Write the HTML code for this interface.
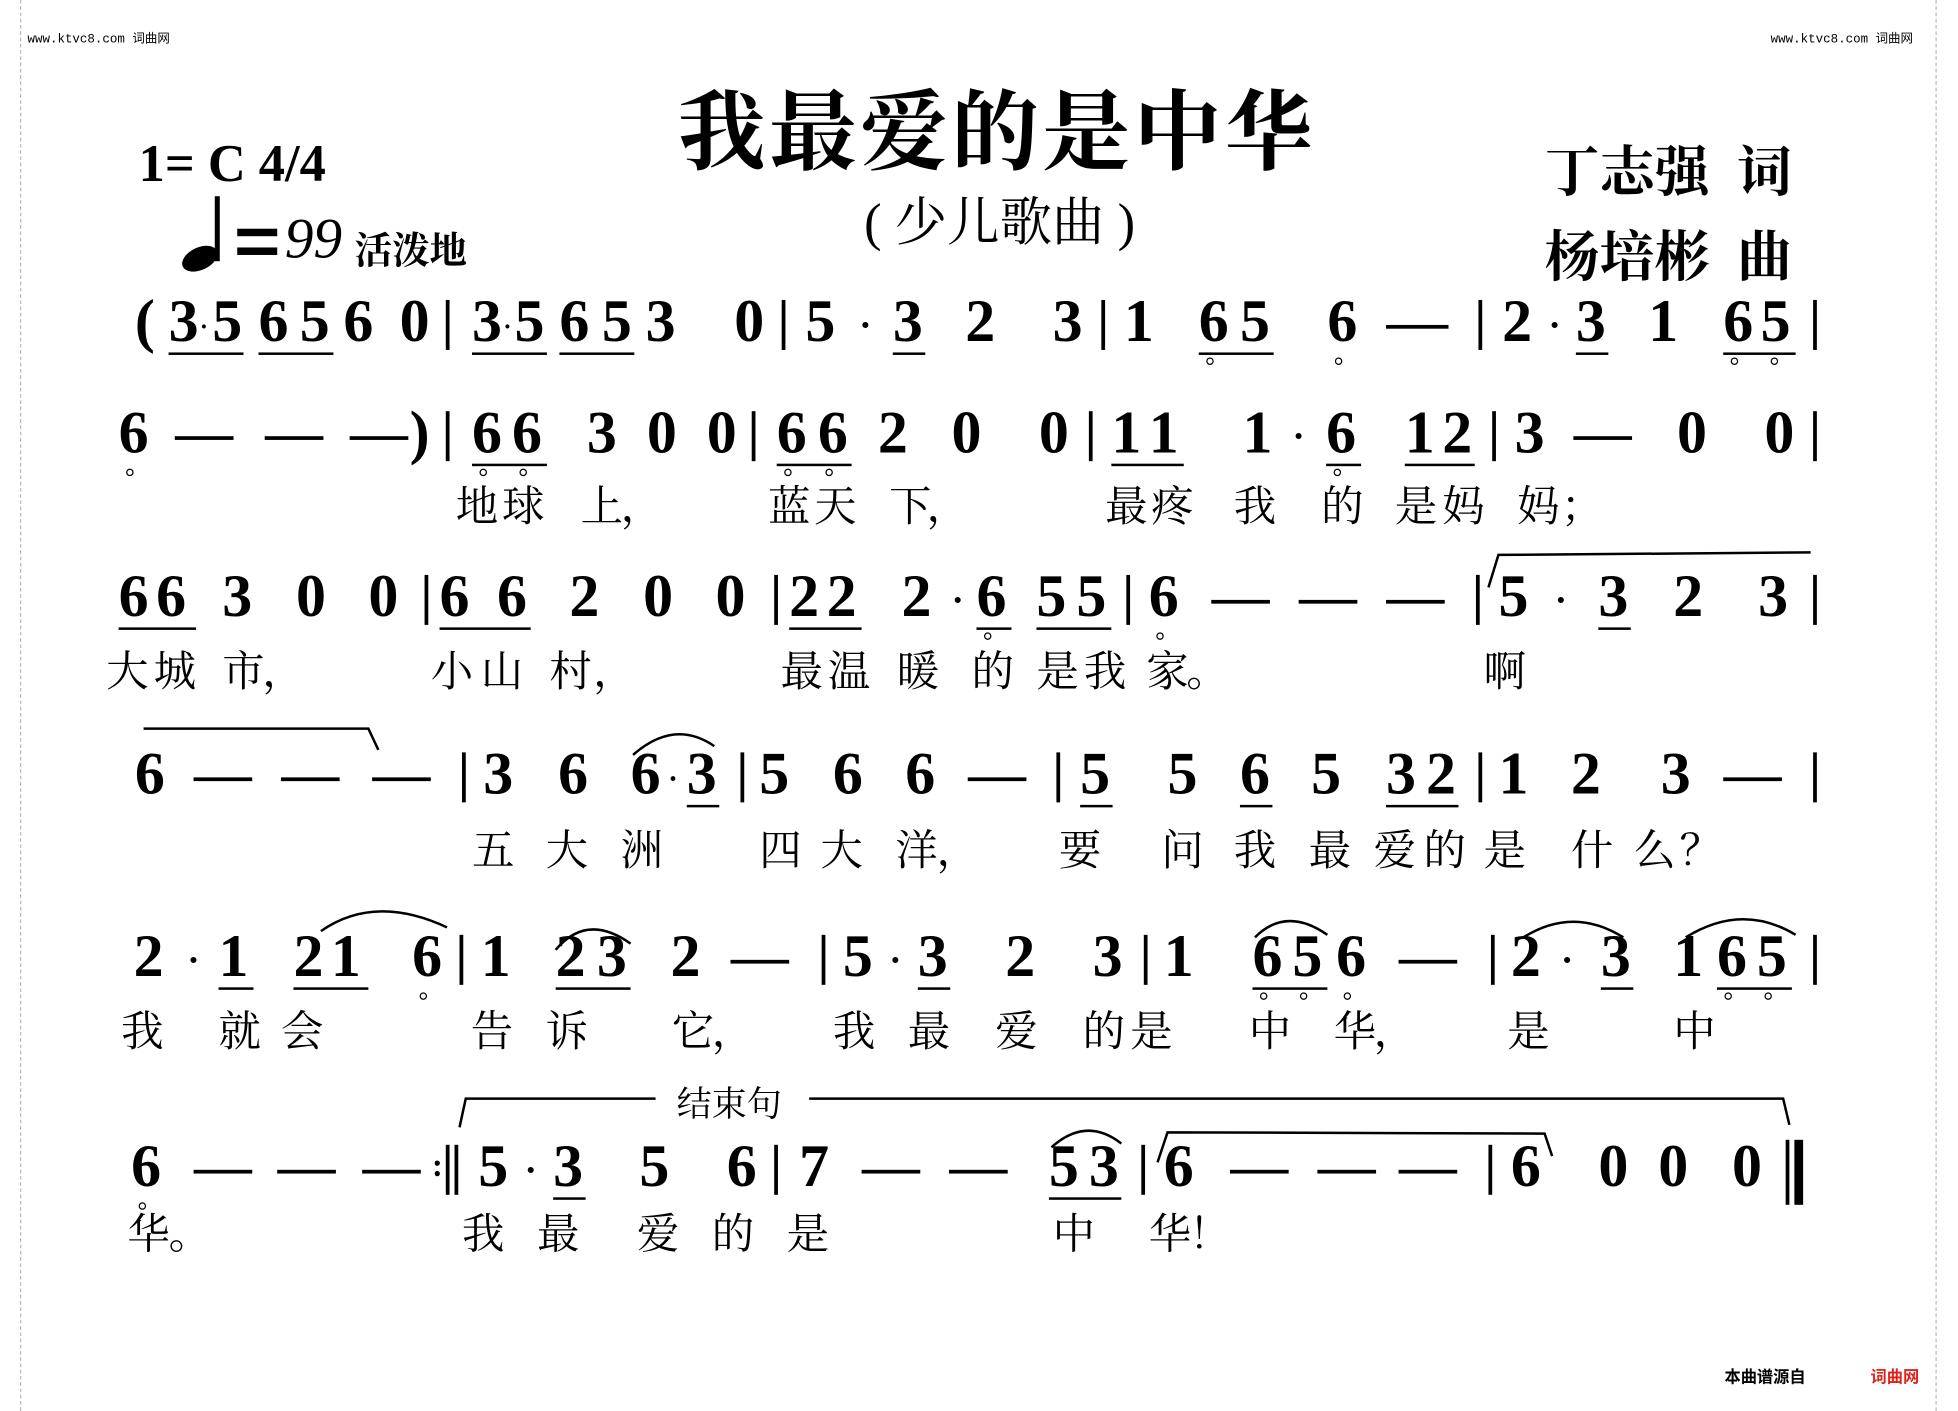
<!DOCTYPE html>
<html><head><meta charset="utf-8"><style>
html,body{margin:0;padding:0;background:#fff;width:1958px;height:1411px;overflow:hidden}
#w{position:absolute;left:0;top:0;width:1568px;height:1129px;transform-origin:0 0;transform:scale(1.2487,1.2498)}
.r{position:absolute;left:0;width:1568px;height:60px}
.r i{position:absolute;top:0;font-style:normal;font:bold 48px/1 "Liberation Serif",serif;color:#000}
.r b{position:absolute;height:3px;background:#000}
.r s{position:absolute;width:3px;height:40px;top:6px;background:#000}
.r u{position:absolute;width:6px;height:6px;border:1.5px solid #000;border-radius:50%;top:52px;box-sizing:border-box}
.y{position:absolute;left:0;width:1568px;height:40px}
.y span{position:absolute;top:0;font:34px/1 "Liberation Serif","Noto Serif CJK SC",serif;color:#000}
.c{position:absolute;font-family:"Liberation Serif","Noto Serif CJK SC",serif;color:#000;white-space:pre}
.wm{position:absolute;font:10px "Liberation Mono","Noto Sans CJK SC",monospace;color:#000}
</style></head><body><div id="w">
<div style="position:absolute;left:16px;top:0;height:1129px;border-left:1px dashed #bbb"></div>
<div style="position:absolute;left:1550px;top:0;height:1129px;border-left:1px dashed #bbb"></div>
<div class="wm" style="left:22px;top:22px">www.ktvc8.com 词曲网</div>
<div class="wm" style="left:1418px;top:22px">www.ktvc8.com 词曲网</div>
<div class="c" style="left:1381px;top:1091px;font:bold 13px 'Noto Sans CJK SC',sans-serif">本曲谱源自</div>
<div class="c" style="left:1498px;top:1091px;font:bold 13px 'Noto Sans CJK SC',sans-serif;color:#e0201a">词曲网</div>

<div class="c" style="left:543px;top:50px;font-size:70px;font-weight:bold;letter-spacing:3px">我最爱的是中华</div>
<div class="c" style="left:692px;top:145px;font-size:42px">( 少儿歌曲 )</div>
<div class="c" style="left:1237px;top:102px;font-size:44px;font-weight:bold">丁志强  词</div>
<div class="c" style="left:1237px;top:170px;font-size:44px;font-weight:bold">杨培彬  曲</div>
<div class="c" style="left:111px;top:108px;font-size:42px;font-weight:bold">1= C 4/4</div>
<div style="position:absolute;left:172px;top:157px;width:4px;height:52px;background:#000"></div>
<div style="position:absolute;left:145px;top:198px;width:30px;height:18px;background:#000;border-radius:50%;transform:rotate(-25deg)"></div>
<div style="position:absolute;left:190px;top:183px;width:32px;height:6px;background:#000"></div>
<div style="position:absolute;left:190px;top:198px;width:32px;height:6px;background:#000"></div>
<div class="c" style="left:228px;top:164px;font-size:46px;font-style:italic">99</div>
<div class="c" style="left:284px;top:176px;font-size:30px;font-weight:bold">活泼地</div>

<!-- row1 -->
<div class="r" style="top:234px">
<i style="left:108px">(</i><i style="left:135px">3</i><i style="left:160px;font-size:20px;top:18px">·</i><i style="left:170px">5</i><i style="left:207px">6</i><i style="left:240px">5</i><i style="left:275px">6</i><i style="left:320px">0</i><s style="left:357px"></s>
<i style="left:378px">3</i><i style="left:403px;font-size:20px;top:18px">·</i><i style="left:412px">5</i><i style="left:448px">6</i><i style="left:482px">5</i><i style="left:517px">3</i><i style="left:588px">0</i><s style="left:626px"></s>
<i style="left:645px">5</i><i style="left:688px;font-size:30px;top:12px">·</i><i style="left:715px">3</i><i style="left:773px">2</i><i style="left:843px">3</i><s style="left:882px"></s>
<i style="left:900px">1</i><i style="left:960px">6</i><i style="left:993px">5</i><i style="left:1063px">6</i><b style="left:1110px;width:50px;top:26px"></b><s style="left:1184px"></s>
<i style="left:1203px">2</i><i style="left:1240px;font-size:30px;top:12px">·</i><i style="left:1262px">3</i><i style="left:1320px">1</i><i style="left:1380px">6</i><i style="left:1410px">5</i><s style="left:1452px"></s>
<b style="left:135px;width:60px;top:48px;height:2px"></b><b style="left:207px;width:60px;top:48px;height:2px"></b><b style="left:378px;width:60px;top:48px;height:2px"></b><b style="left:448px;width:60px;top:48px;height:2px"></b><b style="left:715px;width:26px;top:48px;height:2px"></b><b style="left:960px;width:60px;top:48px;height:2px"></b><b style="left:1262px;width:26px;top:48px;height:2px"></b><b style="left:1380px;width:58px;top:48px;height:2px"></b>
<u style="left:966px"></u><u style="left:1069px"></u><u style="left:1386px"></u><u style="left:1418px"></u>
</div>

<!-- row2 -->
<div class="r" style="top:323px">
<i style="left:95px">6</i><u style="left:101px"></u><b style="left:140px;width:47px;top:26px"></b><b style="left:212px;width:47px;top:26px"></b><b style="left:280px;width:47px;top:26px"></b><i style="left:328px">)</i><s style="left:357px"></s>
<i style="left:378px">6</i><i style="left:410px">6</i><i style="left:470px">3</i><i style="left:518px">0</i><i style="left:566px">0</i><s style="left:602px"></s>
<i style="left:622px">6</i><i style="left:655px">6</i><i style="left:703px">2</i><i style="left:762px">0</i><i style="left:832px">0</i><s style="left:872px"></s>
<i style="left:890px">1</i><i style="left:920px">1</i><i style="left:995px">1</i><i style="left:1035px;font-size:30px;top:12px">·</i><i style="left:1062px">6</i><i style="left:1125px">1</i><i style="left:1155px">2</i><s style="left:1195px"></s>
<i style="left:1213px">3</i><b style="left:1260px;width:47px;top:26px"></b><i style="left:1343px">0</i><i style="left:1413px">0</i><s style="left:1452px"></s>
<b style="left:378px;width:60px;top:48px;height:2px"></b><b style="left:622px;width:60px;top:48px;height:2px"></b><b style="left:890px;width:58px;top:48px;height:2px"></b><b style="left:1062px;width:28px;top:48px;height:2px"></b><b style="left:1125px;width:56px;top:48px;height:2px"></b>
<u style="left:384px"></u><u style="left:416px"></u><u style="left:628px"></u><u style="left:661px"></u><u style="left:1068px"></u>
</div>
<div class="y" style="top:390px"><span style="left:365px">地</span><span style="left:402px">球</span><span style="left:465px">上</span><span style="left:497px">，</span><span style="left:615px">蓝</span><span style="left:652px">天</span><span style="left:712px">下</span><span style="left:742px">，</span><span style="left:885px">最</span><span style="left:922px">疼</span><span style="left:988px">我</span><span style="left:1058px">的</span><span style="left:1117px">是</span><span style="left:1155px">妈</span><span style="left:1215px">妈</span><span style="left:1250px">；</span></div>

<svg style="position:absolute;left:0;top:0" width="1568" height="1129" fill="none" stroke="#000" stroke-width="2">
<path d="M1192 470 L1200 444 L1450 442"/>
<path d="M115 583 L295 583 L303 600"/>
<path d="M507 604 Q540 575 572 597"/>
<path d="M257 745 Q300 715 358 742"/>
<path d="M445 760 Q470 730 505 755"/>
<path d="M1005 750 Q1030 725 1063 748"/>
<path d="M1220 750 Q1260 725 1300 750"/>
<path d="M1350 750 Q1395 722 1438 748"/>
<path d="M368 902 L373 879 L525 879"/><path d="M648 879 L1428 879 L1433 900"/>
<path d="M842 918 Q870 893 898 915"/>
<path d="M927 930 L935 906 L1237 907 L1243 925"/>
</svg>
<div class="c" style="left:542px;top:862px;font-size:28px">结束句</div>

<!-- row3 -->
<div class="r" style="top:454px">
<i style="left:95px">6</i><i style="left:125px">6</i><i style="left:178px">3</i><i style="left:237px">0</i><i style="left:295px">0</i><s style="left:340px"></s>
<i style="left:352px">6</i><i style="left:398px">6</i><i style="left:456px">2</i><i style="left:515px">0</i><i style="left:573px">0</i><s style="left:620px"></s>
<i style="left:632px">2</i><i style="left:662px">2</i><i style="left:722px">2</i><i style="left:762px;font-size:30px;top:12px">·</i><i style="left:782px">6</i><i style="left:830px">5</i><i style="left:862px">5</i><s style="left:902px"></s>
<i style="left:920px">6</i><b style="left:970px;width:47px;top:26px"></b><b style="left:1040px;width:47px;top:26px"></b><b style="left:1110px;width:47px;top:26px"></b><s style="left:1182px"></s>
<i style="left:1200px">5</i><i style="left:1245px;font-size:30px;top:12px">·</i><i style="left:1280px">3</i><i style="left:1340px">2</i><i style="left:1408px">3</i><s style="left:1452px"></s>
<b style="left:95px;width:62px;top:48px;height:2px"></b><b style="left:352px;width:73px;top:48px;height:2px"></b><b style="left:632px;width:58px;top:48px;height:2px"></b><b style="left:782px;width:28px;top:48px;height:2px"></b><b style="left:830px;width:60px;top:48px;height:2px"></b><b style="left:1280px;width:26px;top:48px;height:2px"></b>
<u style="left:788px"></u><u style="left:926px"></u>
</div>
<div class="y" style="top:522px"><span style="left:85px">大</span><span style="left:123px">城</span><span style="left:178px">市</span><span style="left:210px">，</span><span style="left:345px">小</span><span style="left:385px">山</span><span style="left:440px">村</span><span style="left:475px">，</span><span style="left:625px">最</span><span style="left:663px">温</span><span style="left:718px">暖</span><span style="left:778px">的</span><span style="left:830px">是</span><span style="left:868px">我</span><span style="left:918px">家</span><span style="left:950px">。</span><span style="left:1188px">啊</span></div>

<!-- row4 -->
<div class="r" style="top:596px">
<i style="left:108px">6</i><b style="left:155px;width:47px;top:26px"></b><b style="left:225px;width:47px;top:26px"></b><b style="left:298px;width:47px;top:26px"></b><s style="left:370px"></s>
<i style="left:387px">3</i><i style="left:447px">6</i><i style="left:505px">6</i><i style="left:535px;font-size:24px;top:16px">·</i><i style="left:550px">3</i><s style="left:593px"></s>
<i style="left:608px">5</i><i style="left:667px">6</i><i style="left:725px">6</i><b style="left:775px;width:47px;top:26px"></b><s style="left:846px"></s>
<i style="left:865px">5</i><i style="left:935px">5</i><i style="left:993px">6</i><i style="left:1050px">5</i><i style="left:1110px">3</i><i style="left:1142px">2</i><s style="left:1184px"></s>
<i style="left:1200px">1</i><i style="left:1258px">2</i><i style="left:1330px">3</i><b style="left:1380px;width:47px;top:26px"></b><s style="left:1452px"></s>
<b style="left:550px;width:26px;top:48px;height:2px"></b><b style="left:865px;width:26px;top:48px;height:2px"></b><b style="left:993px;width:26px;top:48px;height:2px"></b><b style="left:1110px;width:58px;top:48px;height:2px"></b>
</div>
<div class="y" style="top:665px"><span style="left:378px">五</span><span style="left:437px">大</span><span style="left:497px">洲</span><span style="left:608px">四</span><span style="left:657px">大</span><span style="left:717px">洋</span><span style="left:750px">，</span><span style="left:848px">要</span><span style="left:930px">问</span><span style="left:988px">我</span><span style="left:1048px">最</span><span style="left:1100px">爱</span><span style="left:1140px">的</span><span style="left:1188px">是</span><span style="left:1258px">什</span><span style="left:1308px">么</span><span style="left:1345px">？</span></div>

<!-- row5 -->
<div class="r" style="top:742px">
<i style="left:107px">2</i><i style="left:150px;font-size:30px;top:12px">·</i><i style="left:175px">1</i><i style="left:235px">2</i><i style="left:265px">1</i><i style="left:330px">6</i><s style="left:368px"></s>
<i style="left:385px">1</i><i style="left:445px">2</i><i style="left:478px">3</i><i style="left:537px">2</i><b style="left:585px;width:47px;top:26px"></b><s style="left:658px"></s>
<i style="left:675px">5</i><i style="left:712px;font-size:30px;top:12px">·</i><i style="left:735px">3</i><i style="left:805px">2</i><i style="left:875px">3</i><s style="left:916px"></s>
<i style="left:932px">1</i><i style="left:1003px">6</i><i style="left:1035px">5</i><i style="left:1070px">6</i><b style="left:1120px;width:47px;top:26px"></b><s style="left:1194px"></s>
<i style="left:1210px">2</i><i style="left:1250px;font-size:30px;top:12px">·</i><i style="left:1282px">3</i><i style="left:1340px">1</i><i style="left:1375px">6</i><i style="left:1407px">5</i><s style="left:1452px"></s>
<b style="left:175px;width:28px;top:48px;height:2px"></b><b style="left:235px;width:60px;top:48px;height:2px"></b><b style="left:445px;width:60px;top:48px;height:2px"></b><b style="left:735px;width:26px;top:48px;height:2px"></b><b style="left:1003px;width:60px;top:48px;height:2px"></b><b style="left:1282px;width:26px;top:48px;height:2px"></b><b style="left:1375px;width:60px;top:48px;height:2px"></b>
<u style="left:336px"></u><u style="left:1009px"></u><u style="left:1041px"></u><u style="left:1076px"></u><u style="left:1381px"></u><u style="left:1413px"></u>
</div>
<div class="y" style="top:810px"><span style="left:97px">我</span><span style="left:175px">就</span><span style="left:225px">会</span><span style="left:377px">告</span><span style="left:437px">诉</span><span style="left:538px">它</span><span style="left:570px">，</span><span style="left:667px">我</span><span style="left:727px">最</span><span style="left:797px">爱</span><span style="left:867px">的</span><span style="left:905px">是</span><span style="left:1000px">中</span><span style="left:1068px">华</span><span style="left:1100px">，</span><span style="left:1207px">是</span><span style="left:1340px">中</span></div>

<!-- row6 -->
<div class="r" style="top:910px">
<i style="left:105px">6</i><u style="left:111px"></u><b style="left:155px;width:47px;top:26px"></b><b style="left:222px;width:47px;top:26px"></b><b style="left:290px;width:47px;top:26px"></b>
<i style="left:346px;font-size:26px;top:10px">:</i><s style="left:357px;width:3px"></s><s style="left:364px;width:3px"></s>
<i style="left:383px">5</i><i style="left:420px;font-size:30px;top:12px">·</i><i style="left:443px">3</i><i style="left:512px">5</i><i style="left:582px">6</i><s style="left:620px"></s>
<i style="left:640px">7</i><b style="left:690px;width:47px;top:26px"></b><b style="left:760px;width:47px;top:26px"></b><i style="left:840px">5</i><i style="left:872px">3</i><s style="left:914px"></s>
<i style="left:932px">6</i><b style="left:985px;width:47px;top:26px"></b><b style="left:1055px;width:47px;top:26px"></b><b style="left:1120px;width:47px;top:26px"></b><s style="left:1192px"></s>
<i style="left:1210px">6</i><i style="left:1280px">0</i><i style="left:1328px">0</i><i style="left:1387px">0</i><s style="left:1430px;height:52px;top:2px"></s><s style="left:1437px;width:7px;height:52px;top:2px"></s>
<b style="left:443px;width:26px;top:48px;height:2px"></b><b style="left:840px;width:58px;top:48px;height:2px"></b>
</div>
<div class="y" style="top:972px"><span style="left:102px">华</span><span style="left:135px">。</span><span style="left:370px">我</span><span style="left:430px">最</span><span style="left:510px">爱</span><span style="left:570px">的</span><span style="left:630px">是</span><span style="left:843px">中</span><span style="left:920px">华</span><span style="left:952px">！</span></div>
</div></body></html>
